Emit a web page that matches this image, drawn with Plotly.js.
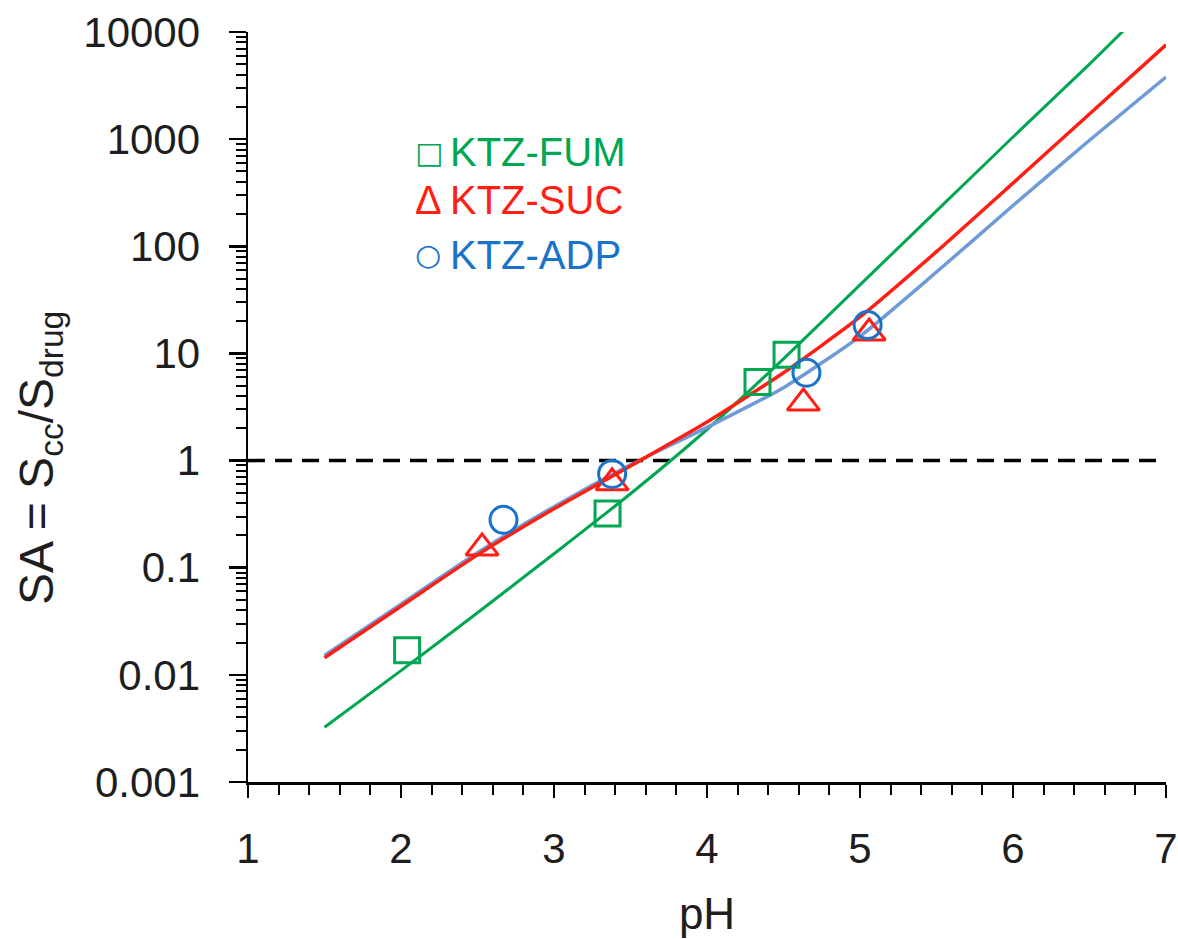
<!DOCTYPE html>
<html>
<head>
<meta charset="utf-8">
<script src="https://cdn.plot.ly/plotly-3.0.1.min.js"></script>
<style>
  html, body { margin: 0; padding: 0; background: #fff; }
  #chart { width: 1178px; height: 939px; }
</style>
</head>
<body>
<div id="chart"></div>
<script>
// ---- Data ----
// Fitted curves
var fumCurvePH = [1.5, 2.0, 2.5, 3.0, 3.5, 4.0, 4.5, 5.0, 5.5, 6.0, 6.5, 6.72];
var fumCurveSA = [0.00324, 0.01096, 0.0380, 0.1349, 0.490, 1.95, 8.91, 43.7, 213.8, 1047, 5012, 10233];

var sucCurvePH = [1.5, 2.0, 2.5, 3.0, 3.5, 4.0, 4.5, 5.0, 5.5, 6.0, 6.5, 7.0];
var sucCurveSA = [0.01445, 0.0437, 0.1318, 0.3548, 0.891, 2.29, 6.61, 21.9, 89.1, 389, 1718, 7586];

var adpCurvePH = [1.5, 2.0, 2.5, 3.0, 3.5, 4.0, 4.5, 5.0, 5.5, 6.0, 6.5, 7.0];
var adpCurveSA = [0.01514, 0.0457, 0.138, 0.3715, 0.912, 2.04, 4.79, 14.45, 57.5, 240, 977, 3802];

// Measured points
var fumPH = [2.04, 3.35, 4.33, 4.52];
var fumSA = [0.017, 0.32, 5.4, 9.7];

var sucPH = [2.53, 3.38, 4.63, 5.06];
var sucSA = [0.153, 0.62, 3.44, 15.5];

var adpPH = [2.67, 3.38, 4.65, 5.05];
var adpSA = [0.28, 0.75, 6.6, 18.4];

// Reference line SA = 1
var refPH = [1, 7];
var refSA = [1, 1];

// Axis ticks
var xTickVals = [1, 2, 3, 4, 5, 6, 7];
var yTickVals = [0.001, 0.01, 0.1, 1, 10, 100, 1000, 10000];
var yTickText = ['0.001', '0.01', '0.1', '1', '10', '100', '1000', '10000'];

// Legend labels
var seriesNames = ['KTZ-FUM', 'KTZ-SUC', 'KTZ-ADP'];
var seriesSymbols = ['\u25A1', '\u0394', '\u25CB'];

// Axis titles
var xTitle = 'pH';
var yTitle = 'SA = S<sub>cc</sub>/S<sub>drug</sub>';

// ---- Styles ----
var GREEN = 'rgb(0,166,81)';
var RED = 'rgb(255,30,20)';
var BLUE_LINE = 'rgb(110,155,215)';
var BLUE = 'rgb(25,115,200)';
var FONT = 'Liberation Sans, Arial, sans-serif';
var TXT = '#1e1e1e';

var traces = [
  { x: refPH, y: refSA, mode: 'lines', line: { color: '#000', width: 3.5, dash: '17px,10px' }, hoverinfo: 'skip' },
  { x: fumCurvePH, y: fumCurveSA, mode: 'lines', line: { color: GREEN, width: 3, shape: 'spline', smoothing: 0.6 } },
  { x: adpCurvePH, y: adpCurveSA, mode: 'lines', line: { color: BLUE_LINE, width: 3.5, shape: 'spline', smoothing: 0.6 } },
  { x: sucCurvePH, y: sucCurveSA, mode: 'lines', line: { color: RED, width: 3.5, shape: 'spline', smoothing: 0.6 } },
  { x: fumPH, y: fumSA, mode: 'markers', marker: { symbol: 'square-open', size: 25, color: GREEN, line: { width: 3, color: GREEN } } },
  { x: sucPH, y: sucSA, mode: 'markers', marker: { symbol: 'triangle-up-open', size: 28, color: RED, line: { width: 3, color: RED } } },
  { x: adpPH, y: adpSA, mode: 'markers', marker: { symbol: 'circle-open', size: 27, color: BLUE, line: { width: 3, color: BLUE } } }
];

var legendColors = [GREEN, RED, BLUE];
var legendY = [0.84, 0.776, 0.703];
var annotations = [];
for (var i = 0; i < seriesNames.length; i++) {
  annotations.push({
    xref: 'paper', yref: 'paper', x: 0.1795, y: legendY[i], xanchor: 'left', yanchor: 'middle',
    text: seriesSymbols[i], showarrow: false,
    font: { family: i === 1 ? FONT : 'DejaVu Sans, sans-serif', size: i === 1 ? 40 : 30, color: legendColors[i] }
  });
  annotations.push({
    xref: 'paper', yref: 'paper', x: 0.218, y: legendY[i], xanchor: 'left', yanchor: 'middle',
    text: seriesNames[i], showarrow: false,
    font: { family: FONT, size: 40, color: legendColors[i] }
  });
}
// y-axis title (placed as rotated text to match the reference position)
annotations.push({
  xref: 'paper', yref: 'paper', x: -0.2266, y: 0.432, xanchor: 'center', yanchor: 'middle',
  textangle: -90, text: yTitle, showarrow: false,
  font: { family: FONT, size: 48, color: TXT }
});

var layout = {
  width: 1178, height: 939,
  margin: { l: 248, r: 12, t: 32, b: 157 },
  paper_bgcolor: '#fff', plot_bgcolor: '#fff',
  showlegend: false,
  font: { family: FONT, color: TXT },
  xaxis: {
    range: [1, 7], tickvals: xTickVals, showgrid: false, zeroline: false,
    showline: true, linecolor: '#000', linewidth: 2.5,
    ticks: 'outside', ticklen: 13, tickwidth: 2.5, tickcolor: '#000',
    minor: { dtick: 0.2, ticks: 'outside', ticklen: 10, tickwidth: 2, tickcolor: '#000', showgrid: false },
    tickfont: { family: FONT, size: 42, color: TXT },
    ticklabelstandoff: 15,
    title: { text: xTitle, font: { family: FONT, size: 44, color: TXT }, standoff: 28 }
  },
  yaxis: {
    type: 'log', range: [-3, 4], tickvals: yTickVals, ticktext: yTickText,
    showgrid: false, zeroline: false,
    showline: true, linecolor: '#000', linewidth: 2.5,
    ticks: 'outside', ticklen: 17, tickwidth: 2.5, tickcolor: '#000',
    minor: { dtick: 'D1', ticks: 'outside', ticklen: 10, tickwidth: 2, tickcolor: '#000', showgrid: false },
    tickfont: { family: FONT, size: 42, color: TXT },
    ticklabelstandoff: 20
  },
  annotations: annotations
};

Plotly.newPlot('chart', traces, layout, { staticPlot: true, displayModeBar: false });
</script>
</body>
</html>
